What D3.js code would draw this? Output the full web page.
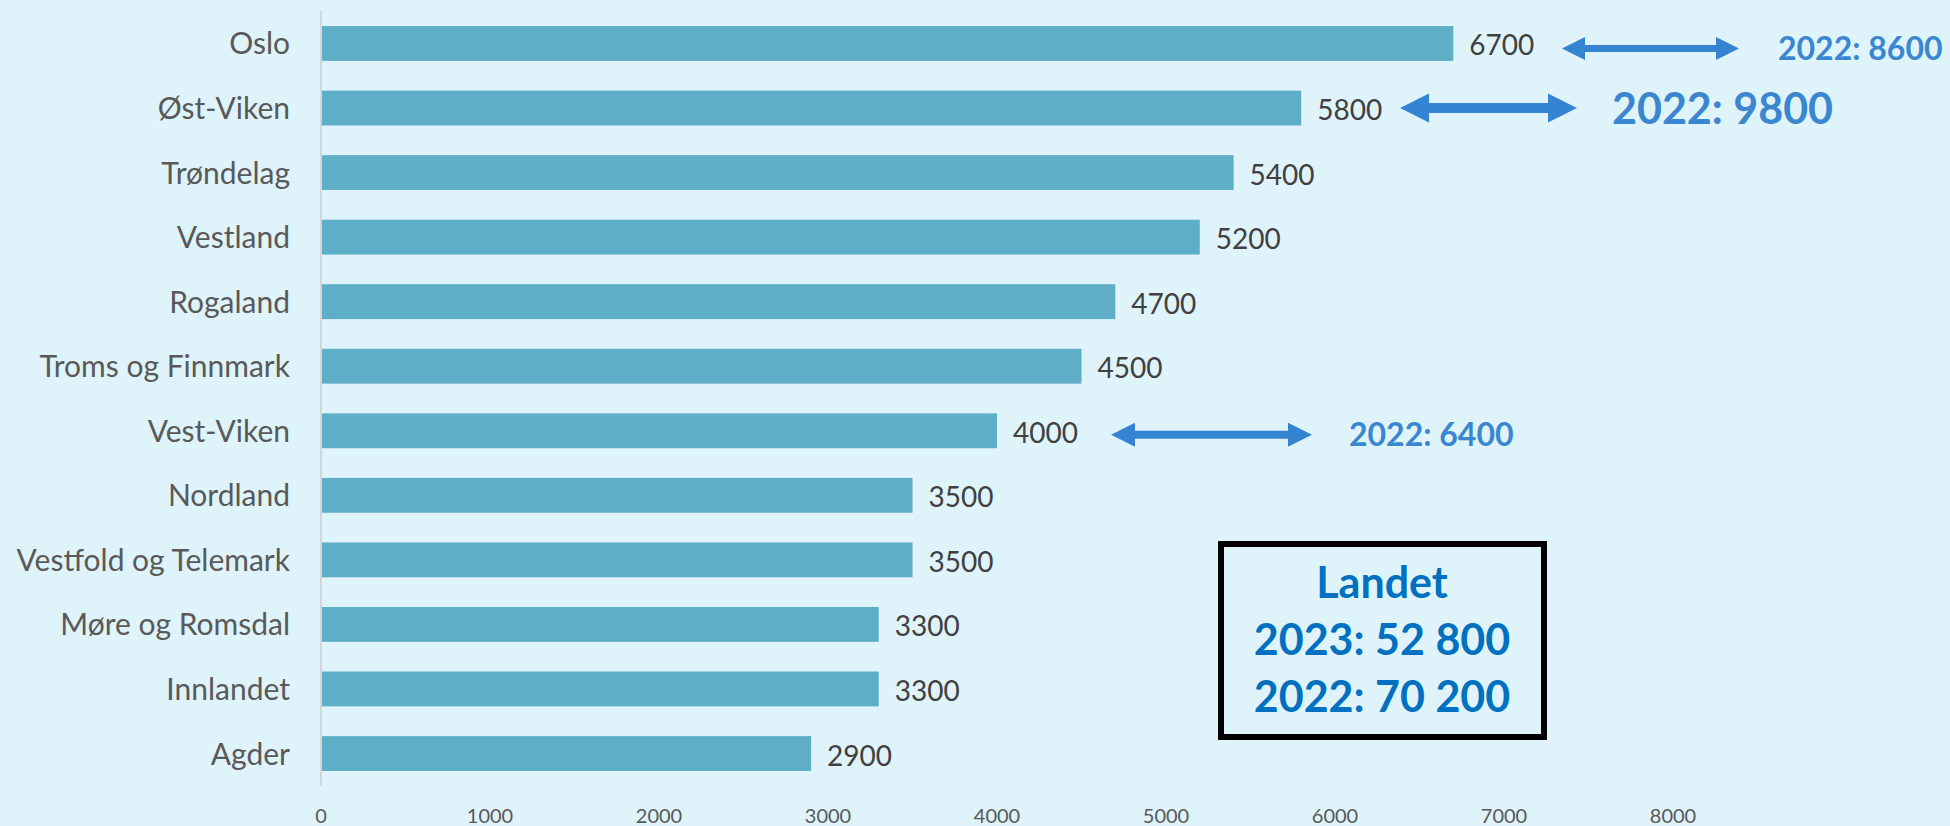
<!DOCTYPE html>
<html><head><meta charset="utf-8">
<script src="https://cdn.jsdelivr.net/npm/d3@7"></script>
<style>
html,body{margin:0;padding:0;background:#DFF3FA;}
svg{display:block;font-family:Lato,"Open Sans",sans-serif;}
</style></head>
<body>
<svg id="c" width="1950" height="826"></svg>
<script>
const categories = ["Oslo","Øst-Viken","Trøndelag","Vestland","Rogaland","Troms og Finnmark","Vest-Viken","Nordland","Vestfold og Telemark","Møre og Romsdal","Innlandet","Agder"];
const values2023 = [6700,5800,5400,5200,4700,4500,4000,3500,3500,3300,3300,2900];
const tickValues = [0,1000,2000,3000,4000,5000,6000,7000,8000];
const annotations = [
  {cat:"Oslo", text:"2022: 8600"},
  {cat:"Øst-Viken", text:"2022: 9800"},
  {cat:"Vest-Viken", text:"2022: 6400"}
];
const boxLines = ["Landet","2023: 52 800","2022: 70 200"];

// layout for annotations (pixel styling)
const annStyle = {
  "Oslo":      {x0:1562, x1:1739, dy:5, head:23, shaft:7, tx:1778, fs:32},
  "Øst-Viken": {x0:1400, x1:1577, dy:0, head:29, shaft:10, tx:1612, fs:43},
  "Vest-Viken":{x0:1111, x1:1312, dy:4, head:24, shaft:8, tx:1349, fs:32}
};

const svg = d3.select("#c");
const x = d3.scaleLinear().domain([0,8000]).range([321,1673]);
const y = d3.scaleBand().domain(categories).range([11,786]).paddingInner(0.46).paddingOuter(0.233);

// bars
svg.append("g").selectAll("rect").data(categories).join("rect")
  .attr("x", x(0)).attr("y", d=>y(d))
  .attr("width", (d,i)=>x(values2023[i])-x(0))
  .attr("height", y.bandwidth())
  .attr("fill","#5FAEC8");

// y axis line
svg.append("line").attr("x1",x(0)).attr("x2",x(0)).attr("y1",11).attr("y2",786)
  .attr("stroke","#D2D6D8").attr("stroke-width",2);

// category labels
svg.append("g").selectAll("text").data(categories).join("text")
  .attr("x",290).attr("y",d=>y(d)+y.bandwidth()/2+11)
  .attr("text-anchor","end").attr("font-size",30).attr("fill","#595959")
  .text(d=>d);

// value labels
svg.append("g").selectAll("text").data(categories).join("text")
  .attr("x",(d,i)=>x(values2023[i])+16).attr("y",d=>y(d)+y.bandwidth()/2+12)
  .attr("font-size",28).attr("fill","#404040")
  .text((d,i)=>values2023[i]);

// x tick labels
svg.append("g").selectAll("text").data(tickValues).join("text")
  .attr("x",d=>x(d)).attr("y",823)
  .attr("text-anchor","middle").attr("font-size",20).attr("fill","#595959")
  .text(d=>d);

// annotations
const ag = svg.append("g");
annotations.forEach(a=>{
  const s = annStyle[a.cat];
  const cy = y(a.cat)+y.bandwidth()/2+s.dy;
  const h = s.head, t = s.shaft/2;
  const p = d3.path();
  p.moveTo(s.x0, cy);
  p.lineTo(s.x0+h, cy-h/2);
  p.lineTo(s.x0+h, cy-t);
  p.lineTo(s.x1-h, cy-t);
  p.lineTo(s.x1-h, cy-h/2);
  p.lineTo(s.x1, cy);
  p.lineTo(s.x1-h, cy+h/2);
  p.lineTo(s.x1-h, cy+t);
  p.lineTo(s.x0+h, cy+t);
  p.lineTo(s.x0+h, cy+h/2);
  p.closePath();
  ag.append("path").attr("d",p.toString()).attr("fill","#3584D2");
  ag.append("text").attr("x",s.tx).attr("y",cy+s.fs*0.36)
    .attr("font-size",s.fs).attr("font-weight","bold").attr("fill","#3A86D0")
    .text(a.text);
});

// box
svg.append("rect").attr("x",1221).attr("y",544).attr("width",323).attr("height",193)
  .attr("fill","none").attr("stroke","#000").attr("stroke-width",6);
svg.append("g").selectAll("text").data(boxLines).join("text")
  .attr("x",1382).attr("y",(d,i)=>598+i*57)
  .attr("text-anchor","middle").attr("font-size",43).attr("font-weight","bold").attr("fill","#0070C0")
  .text(d=>d);
</script>
</body></html>
